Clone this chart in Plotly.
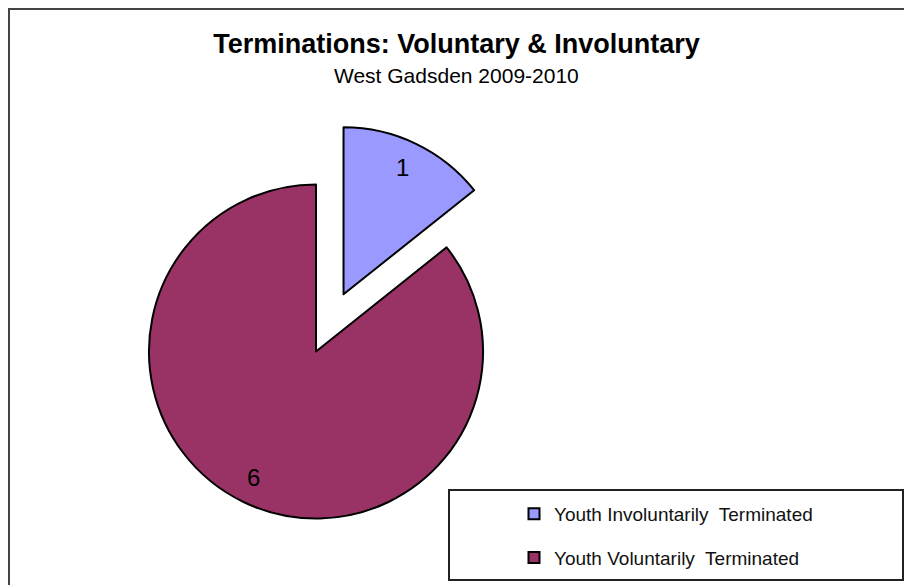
import math
import plotly.graph_objects as go

labels = ["Youth Involuntarily\u00a0 Terminated", "Youth Voluntarily\u00a0 Terminated"]
values = [1, 6]
colors = ["#9999FF", "#993366"]
pulls = [0.38, 0]

title_text = "Terminations: Voluntary & Involuntary"
subtitle_text = "West Gadsden 2009-2010"

W, H = 912, 585
FONT = "Liberation Sans, Arial, sans-serif"

def px_x(p):
    return p / W

def px_y(p):
    return 1 - p / H

# pie geometry (figure pixels)
CX, CY, HALF = 308.0, 343.5, 230.5
dom_x = [px_x(CX - HALF), px_x(CX + HALF)]
dom_y = [px_y(CY + HALF), px_y(CY - HALF)]
R = HALF / (1 + max(pulls))
LABEL_FRAC = 0.84

fig = go.Figure()
fig.add_trace(go.Pie(
    labels=labels,
    values=values,
    marker=dict(colors=colors, line=dict(color="black", width=2)),
    pull=pulls,
    sort=False,
    direction="clockwise",
    rotation=0,
    textinfo="none",
    showlegend=False,
    hoverinfo="label+value",
    domain=dict(x=dom_x, y=dom_y),
))

# legend entries (one per slice, separate groups so spacing can be set)
for lab, col in zip(labels, colors):
    fig.add_trace(go.Scatter(
        x=[None], y=[None], mode="markers", name=lab, legendgroup=lab,
        marker=dict(symbol="square", size=11, color=col, line=dict(color="black", width=2)),
        hoverinfo="skip",
    ))

# value labels placed along each slice's mid-angle
annotations = []
total = sum(values)
cum = 0
for v, p in zip(values, pulls):
    theta = 2 * math.pi * (cum + v / 2) / total
    cum += v
    d = (p + LABEL_FRAC) * R
    lx = CX + d * math.sin(theta)
    ly = CY - d * math.cos(theta)
    annotations.append(dict(text=str(v), x=px_x(lx - 2), y=px_y(ly), xref="paper", yref="paper",
                            xanchor="center", yanchor="middle", showarrow=False,
                            font=dict(family=FONT, size=24, color="black")))

annotations.append(dict(text=subtitle_text, x=px_x(448), xref="paper", y=px_y(67.5), yref="paper",
                        xanchor="center", yanchor="middle", showarrow=False,
                        font=dict(family=FONT, size=21, color="black")))

fig.update_layout(
    width=W, height=H,
    margin=dict(l=0, r=0, t=0, b=0),
    paper_bgcolor="white", plot_bgcolor="white",
    font=dict(family=FONT, color="black"),
    xaxis=dict(visible=False), yaxis=dict(visible=False),
    title=dict(text="<b>" + title_text + "</b>", x=px_x(448.5), xanchor="center",
               y=px_y(36), yanchor="middle", yref="container",
               font=dict(family=FONT, size=27, color="black")),
    annotations=annotations,
    legend=dict(x=px_x(506), y=px_y(487), xanchor="left", yanchor="top",
                traceorder="grouped", tracegroupgap=16,
                font=dict(family=FONT, size=19, color="#111"),
                bgcolor="rgba(0,0,0,0)", borderwidth=0),
    shapes=[
        dict(type="rect", xref="paper", yref="paper",
             x0=px_x(441), x1=px_x(895), y0=px_y(572), y1=px_y(482),
             line=dict(color="#222", width=2), fillcolor="rgba(0,0,0,0)", layer="below"),
        dict(type="line", xref="paper", yref="paper",
             x0=px_x(0), x1=px_x(912), y0=px_y(1), y1=px_y(1),
             line=dict(color="#444", width=2)),
        dict(type="line", xref="paper", yref="paper",
             x0=px_x(1), x1=px_x(1), y0=px_y(0), y1=px_y(585),
             line=dict(color="#444", width=2)),
    ],
)

fig.write_html("out.html")
